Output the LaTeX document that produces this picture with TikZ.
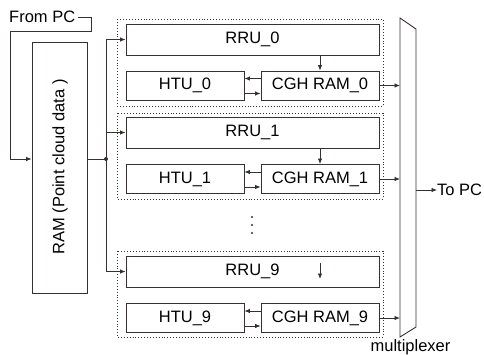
\documentclass[tikz,border=0pt]{standalone}
\usepackage{fontspec}
\setmainfont{Liberation Sans}
\usetikzlibrary{arrows.meta,calc}
\definecolor{ln}{RGB}{55,48,48}
\begin{document}
\begin{tikzpicture}[x=1pt,y=-1pt,
  font=\fontsize{16.5}{19}\selectfont,
  box/.style={draw=ln,line width=0.9pt,inner sep=0pt,text=black},
  rrubox/.style={box,minimum width=253pt,minimum height=31pt},
  smallbox/.style={box,minimum width=118pt,minimum height=29pt},
  grp/.style={draw=ln,dotted,line width=0.9pt},
  conn/.style={draw=ln,line width=0.8pt},
  arr/.style={conn,-{Latex[length=5.5pt,width=4.5pt]}}]
\useasboundingbox (0,0) rectangle (484,354);

% RAM
\node[box,minimum width=55pt,minimum height=251pt] (ram) at (59.5,167.5) {};
\node[rotate=90,inner sep=0pt] (ramtxt) at (60,167) {RAM (Point cloud data )};

% From PC
\node[anchor=west,inner sep=0pt] (frompc) at (9,17) {From PC};
\coordinate (fp1) at (91,17);
\coordinate (fp2) at (91,31);
\coordinate (fp3) at (10,31);
\coordinate (fp4) at (10,159);
\draw[arr] ([xshift=3pt]frompc.east) -- (fp1) -- (fp2) -- (fp3) -- (fp4) -- ([yshift=8.5pt]ram.west);

% groups
\draw[grp] (117,19) rectangle (383,106);
\draw[grp] (117,113) rectangle (383,199);
\draw[grp] (117,251) rectangle (383,337);

\node[rrubox] (rru0) at (252.5,39.5) {RRU\_0};
\node[smallbox] (htu0) at (185,85.5) {HTU\_0};
\node[smallbox] (cgh0) at (320,85.5) {CGH RAM\_0};

\node[rrubox] (rru1) at (252.5,132.5) {RRU\_1};
\node[smallbox] (htu1) at (185,179) {HTU\_1};
\node[smallbox] (cgh1) at (320,179) {CGH RAM\_1};

\node[rrubox] (rru9) at (252.5,271.5) {RRU\_9};
\node[smallbox] (htu9) at (185,318) {HTU\_9};
\node[smallbox] (cgh9) at (320,318) {CGH RAM\_9};

% bus
\coordinate (jn) at (106,159);
\draw[conn] ([yshift=8.5pt]ram.east) -- (jn);
\fill[ln] (jn) circle (2pt);
\draw[conn] (jn |- rru0.west) -- (jn |- rru9.west);
\draw[arr] (jn |- rru0.west) -- (rru0.west);
\draw[arr] (jn |- rru1.west) -- (rru1.west);
\draw[arr] (jn |- rru9.west) -- (rru9.west);

% inner arrows
\foreach \g in {0,1,9}{
  \draw[arr] ([yshift=7pt]cgh\g.west) -- ([yshift=7pt]htu\g.east);
  \draw[arr] ([yshift=-8pt]htu\g.east) -- ([yshift=-8pt]cgh\g.west);
}
\draw[arr] (cgh0.north |- rru0.south) -- (cgh0.north);
\draw[arr] (cgh1.north |- rru1.south) -- (cgh1.north);
\draw[arr] ([xshift=67.5pt,yshift=8.5pt]rru9.center) -- ([xshift=67.5pt,yshift=-7.5pt]rru9.center);

% dots
\foreach \yy in {217,225,233}{\fill[ln] (252,\yy) circle (1.1pt);}

% multiplexer
\coordinate (m1) at (400,18);
\coordinate (m2) at (416,29);
\coordinate (m3) at (416,327);
\coordinate (m4) at (400,337);
\draw[ln,line width=0.9pt] (m1) -- (m2) -- (m3) -- (m4) -- cycle;
\draw[arr] (cgh0.east) -- (cgh0.east -| m1);
\draw[arr] (cgh1.east) -- (cgh1.east -| m1);
\draw[arr] (cgh9.east) -- (cgh9.east -| m1);

\coordinate (mo) at (416,190);
\node[anchor=west,inner sep=0pt] (topc) at (437,190) {To PC};
\draw[arr] (mo) -- (topc.west);
\node[inner sep=0pt] (mux) at (410.5,347) {multiplexer};
\end{tikzpicture}
\end{document}
